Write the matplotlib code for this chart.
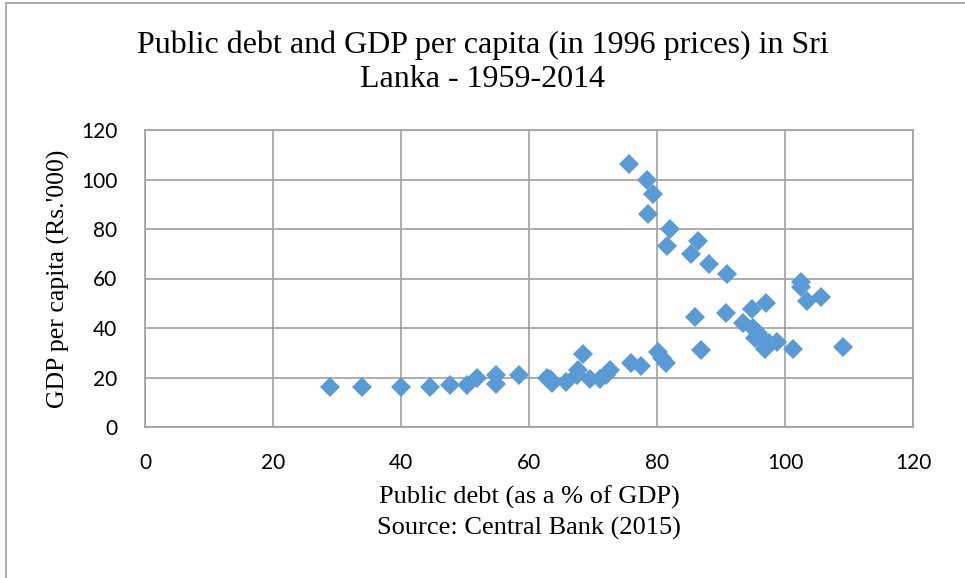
import matplotlib
matplotlib.use("Agg")
import matplotlib.pyplot as plt
from matplotlib.patches import Rectangle

# Public debt (% of GDP) and GDP per capita (Rs.'000, 1996 prices)
debt = [28.9, 33.9, 40.0, 44.5, 47.7, 50.3, 51.9, 54.8, 54.8, 58.4,
        62.8, 63.3, 63.6, 65.8, 67.5, 67.7, 68.4, 69.5, 71.1, 72.0,
        72.7, 76.0, 77.5, 80.2, 80.8, 81.4, 86.8, 85.9, 90.8, 93.4,
        94.9, 97.0, 95.0, 95.8, 95.3, 96.5, 97.5, 97.0, 98.8, 96.8,
        101.2, 109.0, 102.5, 102.5, 103.4, 105.6,
        75.6, 78.4, 79.4, 78.6, 82.0, 81.6, 86.4, 85.3, 88.1, 90.9]
gdp = [16.0, 16.0, 16.2, 16.2, 16.8, 16.8, 20.0, 21.0, 17.4, 21.2,
       20.0, 19.5, 17.8, 18.2, 21.0, 23.0, 29.5, 19.5, 19.5, 21.0,
       23.0, 26.0, 24.7, 30.3, 28.0, 26.0, 31.3, 44.4, 46.2, 42.2,
       47.5, 50.2, 40.0, 38.0, 36.0, 35.0, 34.0, 32.5, 34.5, 31.5,
       31.5, 32.2, 58.5, 56.5, 51.0, 52.5,
       106.3, 100.0, 94.0, 86.0, 80.2, 73.2, 75.2, 70.0, 66.0, 62.0]

x_ticks = [0, 20, 40, 60, 80, 100, 120]
y_ticks = [0, 20, 40, 60, 80, 100, 120]

title = "Public debt and GDP per capita (in 1996 prices) in Sri\nLanka - 1959-2014"
xlabel = "Public debt (as a % of GDP)\nSource: Central Bank (2015)"
ylabel = "GDP per capita (Rs.'000)"

serif = "Liberation Serif"
sans = "Lato"
grid_c = "#A0A0A0"

fig = plt.figure(figsize=(9.65, 5.78), dpi=100)
fig.patches.append(Rectangle((6/965, -0.01), 1.0, 1 - 3/578 + 0.01, transform=fig.transFigure,
                             fill=False, edgecolor="#A0A0A0", linewidth=1.2))

ax = fig.add_axes([145/965, (578-427)/578, (913-145)/965, (427-130)/578])
ax.plot(debt, gdp, linestyle="none", marker="D", markersize=10.5,
        color="#5B9BD5", markeredgewidth=0, zorder=3)
ax.set_xlim(0, 120)
ax.set_ylim(0, 120)
ax.set_xticks(x_ticks)
ax.set_yticks(y_ticks)
ax.set_xticklabels([str(v) for v in x_ticks], fontfamily=sans, fontsize=15)
ax.set_yticklabels([str(v) for v in y_ticks], fontfamily=sans, fontsize=15)
ax.tick_params(axis="x", length=0, pad=19)
ax.tick_params(axis="y", length=0, pad=20)
ax.grid(True, color=grid_c, linewidth=1.2)
ax.set_axisbelow(True)
for s in ax.spines.values():
    s.set_color(grid_c)
    s.set_linewidth(1.2)

ax.set_xlabel(xlabel, fontfamily=serif, fontsize=19, labelpad=9, linespacing=1.45)
ax.set_ylabel(ylabel, fontfamily=serif, fontsize=18.5, labelpad=8)
fig.text(0.5, 1 - 62/578, title, ha="center", va="center", fontfamily=serif,
         fontsize=23, linespacing=1.25)

fig.savefig("out.png", dpi=100)
